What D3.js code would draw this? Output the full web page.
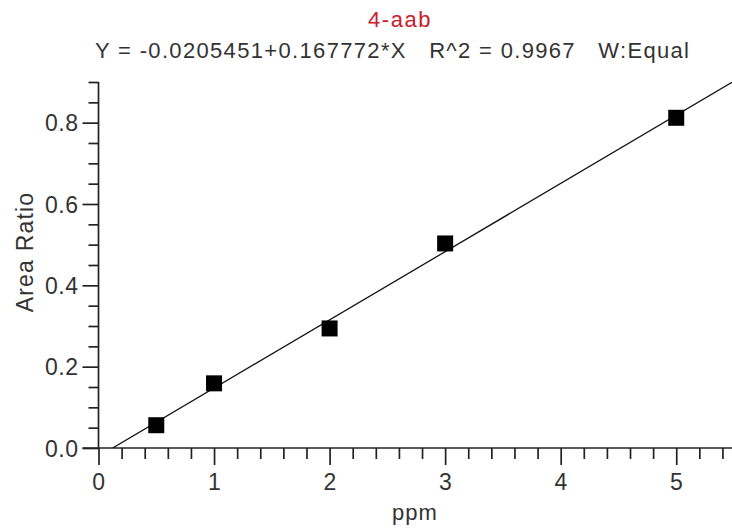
<!DOCTYPE html>
<html>
<head>
<meta charset="utf-8">
<script src="https://cdn.jsdelivr.net/npm/d3@7"></script>
<style>
  body { margin: 0; background: #fff; }
  svg text { font-family: "Liberation Sans", Arial, sans-serif; fill: #222; }
</style>
</head>
<body>
<svg id="chart" width="732" height="531"></svg>
<script>
// calibration points
const concentrations = [0.5, 1, 2, 3, 5];
const areaRatios = [0.056, 0.159, 0.294, 0.503, 0.812];

// fit reported in the header
const intercept = -0.0205451;
const slope = 0.167772;

const compoundName = "4-aab";
const fitLabel = "Y = -0.0205451+0.167772*X   R^2 = 0.9967   W:Equal";

const xMajorTicks = [0, 1, 2, 3, 4, 5];
const yMajorTicks = [0, 0.2, 0.4, 0.6, 0.8];

const margin = { top: 82, right: 0, bottom: 83, left: 98.5 };
const width = 732, height = 531;

const svg = d3.select("#chart");

const x = d3.scaleLinear()
  .domain([0, 5.5])
  .range([margin.left, width + 2]);

const y = d3.scaleLinear()
  .domain([0, 0.9])
  .range([height - margin.bottom, margin.top]);

// minor ticks (x every 0.2, y every 0.05)
const xMinor = d3.range(0, 5.5, 0.2).filter(v => Math.abs(v - Math.round(v)) > 1e-6);
const yMinor = d3.range(0, 0.91, 0.05).filter(v => Math.abs(v * 5 - Math.round(v * 5)) > 1e-6);

// x axis
const xAxis = svg.append("g")
  .attr("transform", `translate(0,${y(0)})`)
  .call(d3.axisBottom(x).tickValues(xMajorTicks).tickFormat(d3.format("d")).tickSize(17).tickPadding(9));
svg.append("g")
  .attr("transform", `translate(0,${y(0)})`)
  .call(d3.axisBottom(x).tickValues(xMinor).tickSize(11).tickFormat(""))
  .call(g => g.select(".domain").remove());

// y axis
const yAxis = svg.append("g")
  .attr("transform", `translate(${x(0)},0)`)
  .call(d3.axisLeft(y).tickValues(yMajorTicks).tickFormat(d3.format(".1f")).tickSize(16).tickPadding(4));
svg.append("g")
  .attr("transform", `translate(${x(0)},0)`)
  .call(d3.axisLeft(y).tickValues(yMinor).tickSize(10).tickFormat(""))
  .call(g => g.select(".domain").remove());

svg.selectAll(".domain").attr("stroke", "#222").attr("stroke-width", 1.7);
svg.selectAll(".tick line").attr("stroke", "#222").attr("stroke-width", 1.7);
xAxis.select(".domain").attr("d", `M${x(0) - 16},0H${width}`);
yAxis.select(".domain").attr("d", `M0,${y(0.9)}V${y(0)}`);

svg.selectAll(".tick text")
  .attr("font-size", 23)
  .attr("font-family", "Liberation Sans, Arial, sans-serif")
  .attr("letter-spacing", 0.5)
  .style("fill", "#333");
yAxis.selectAll(".tick text").attr("dy", "0.36em");

// regression line, clipped to the plot box
svg.append("clipPath").attr("id", "plotClip")
  .append("rect")
  .attr("x", x(0)).attr("y", y(0.9))
  .attr("width", width - x(0)).attr("height", y(0) - y(0.9));

const x0 = -intercept / slope;
const fitLine = d3.line().x(d => x(d)).y(d => y(intercept + slope * d));
svg.append("path")
  .datum([x0, 5.5])
  .attr("clip-path", "url(#plotClip)")
  .attr("d", fitLine)
  .attr("fill", "none")
  .attr("stroke", "#111")
  .attr("stroke-width", 1.3);

// points
const sq = 16;
svg.selectAll("rect.pt")
  .data(concentrations.map((c, i) => [c, areaRatios[i]]))
  .join("rect")
  .attr("class", "pt")
  .attr("x", d => x(d[0]) - sq / 2)
  .attr("y", d => y(d[1]) - sq / 2)
  .attr("width", sq)
  .attr("height", sq)
  .attr("fill", "#000");

// titles
svg.append("text")
  .attr("x", 400).attr("y", 27)
  .attr("text-anchor", "middle")
  .attr("font-size", 22)
  .attr("letter-spacing", 1.5)
  .style("fill", "#c8202a")
  .text(compoundName);

svg.append("text")
  .attr("x", 95).attr("y", 58)
  .attr("font-size", 22)
  .attr("textLength", 594)
  .attr("lengthAdjust", "spacing")
  .style("white-space", "pre")
  .style("fill", "#333")
  .text(fitLabel);

// axis titles
svg.append("text")
  .attr("x", 415).attr("y", 520)
  .attr("text-anchor", "middle")
  .attr("font-size", 22)
  .attr("letter-spacing", 1)
  .style("fill", "#333")
  .text("ppm");

svg.append("text")
  .attr("transform", "translate(33,252) rotate(-90)")
  .attr("text-anchor", "middle")
  .attr("font-size", 23)
  .attr("letter-spacing", 1.2)
  .style("fill", "#333")
  .text("Area Ratio");
</script>
</body>
</html>
